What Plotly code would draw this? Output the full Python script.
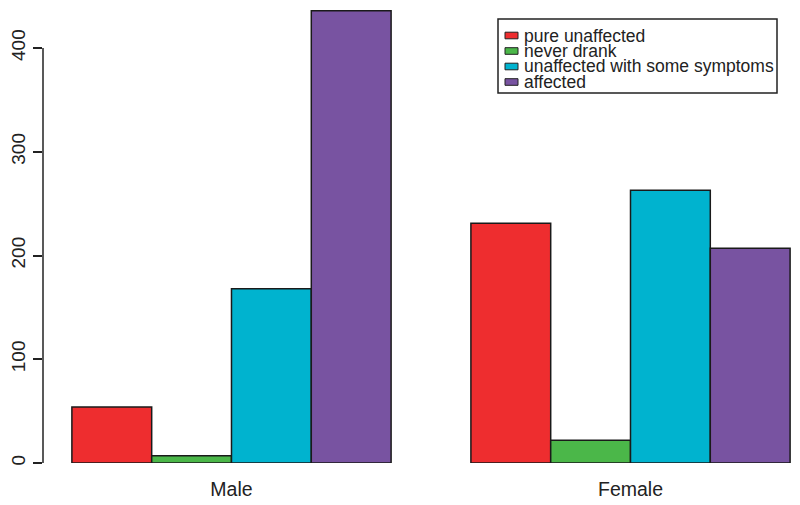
import plotly.graph_objects as go

# ---- data ----
groups = ["Male", "Female"]
series_names = ["pure unaffected", "never drank", "unaffected with some symptoms", "affected"]
pure_unaffected = [54, 231]
never_drank = [7, 22]
unaffected_some = [168, 263]
affected = [436, 207]
y_ticks = [0, 100, 200, 300, 400]

series_values = [pure_unaffected, never_drank, unaffected_some, affected]
colors = ["#EE2D2F", "#4BB749", "#00B3CF", "#7853A1"]

# page has an 8px body margin; figure is sized to fit the 800x505 window
OFF = 8
W, H = 800 - OFF, 505 - OFF
PLOT_LEFT, PLOT_RIGHT, PLOT_TOP, PLOT_BOTTOM = 43, 800, 8, 463  # page pixels
ML = PLOT_LEFT - OFF
MR = (OFF + W) - PLOT_RIGHT
MT = PLOT_TOP - OFF
MB = (OFF + H) - PLOT_BOTTOM
PW, PH = PLOT_RIGHT - PLOT_LEFT, PLOT_BOTTOM - PLOT_TOP
PX_PER_UNIT = 1.0375  # pixels per y unit


def px(x):
    return (x - PLOT_LEFT) / PW


def py(y):
    return (PLOT_BOTTOM - y) / PH


fig = go.Figure()
for name, vals, col in zip(series_names, series_values, colors):
    fig.add_trace(go.Bar(
        x=groups, y=vals, name=name,
        marker=dict(color=col, line=dict(color="#1a1a1a", width=1.5)),
        showlegend=False,
    ))

font_family = "Liberation Sans, Arial, Helvetica, sans-serif"

fig.update_layout(
    width=W, height=H,
    margin=dict(l=ML, r=MR, t=MT, b=MB, autoexpand=False),
    paper_bgcolor="white", plot_bgcolor="white",
    barmode="group", bargap=0.2, bargroupgap=0,
    font=dict(family=font_family, color="#222222"),
    xaxis=dict(
        range=[-0.4724, 1.4248], showgrid=False, showline=False, zeroline=False,
        ticks="", tickfont=dict(size=19.5, color="#222222"), ticklabelstandoff=12,
    ),
    yaxis=dict(
        range=[0, PH / PX_PER_UNIT], showgrid=False, showline=False, zeroline=False,
        tickvals=y_ticks, ticktext=[str(v) for v in y_ticks],
        ticks="outside", ticklen=9, tickwidth=1.5, tickcolor="#222222",
        tickangle=-90, tickfont=dict(size=19, color="#222222"),
    ),
)

# y axis line from first to last tick (R style)
fig.add_shape(type="line", xref="paper", yref="y", x0=0, x1=0,
              y0=y_ticks[0], y1=y_ticks[-1], line=dict(color="#222222", width=1.5))

# legend box (manual, R style)
fig.add_shape(type="rect", xref="paper", yref="paper",
              x0=px(498), x1=px(777), y0=py(93), y1=py(19),
              line=dict(color="#222222", width=1.5), fillcolor="white")
row_centers = [35.5, 51, 66.5, 82]
for name, col, yc in zip(series_names, colors, row_centers):
    fig.add_shape(type="rect", xref="paper", yref="paper",
                  x0=px(505), x1=px(518), y0=py(yc + 3.3), y1=py(yc - 3.3),
                  line=dict(color="#222222", width=1), fillcolor=col)
    fig.add_annotation(xref="paper", yref="paper", x=px(522), y=py(yc),
                       xanchor="left", yanchor="middle", showarrow=False,
                       text=name, font=dict(size=17.5, color="#222222", family=font_family))

fig.write_html("out.html")
